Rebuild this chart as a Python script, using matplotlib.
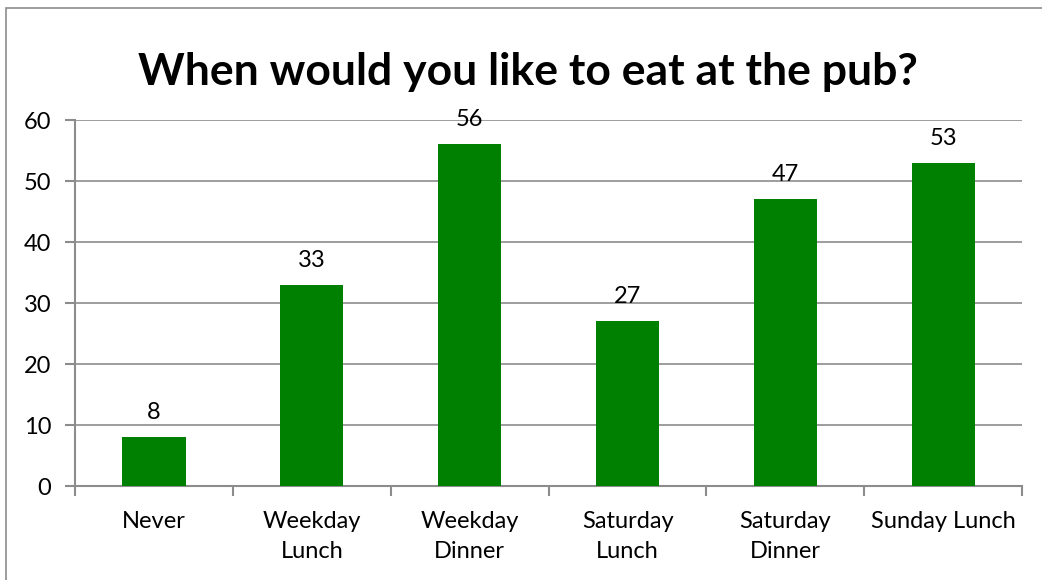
import numpy as np
import matplotlib.pyplot as plt
from matplotlib.patches import Rectangle

categories = ['Never', 'Weekday\nLunch', 'Weekday\nDinner', 'Saturday\nLunch', 'Saturday\nDinner', 'Sunday Lunch']
counts = [8, 33, 56, 27, 47, 53]

plt.rcParams['font.family'] = ['Lato', 'DejaVu Sans']

fig = plt.figure(figsize=(10.42, 5.8), dpi=100)
ax = fig.add_axes([0.072, 0.162, 0.909, 0.631])

# chart border
fig.patches.append(Rectangle((6/1042, -0.05), 1.1, 1 - 8/580 + 0.05, transform=fig.transFigure,
                             fill=False, edgecolor='#8c8c8c', linewidth=1.2))

x = np.arange(len(categories))
bars = ax.bar(x, counts, width=0.4, color='#008000', zorder=3)
for xi, v in zip(x, counts):
    ax.text(xi, v + 2.3, str(v), ha='center', va='bottom', fontsize=17)

ax.set_xlim(-0.5, len(categories) - 0.5)
ax.set_ylim(0, 60)
ax.set_yticks(range(0, 61, 10))
ax.set_xticks(x)
ax.set_xticklabels(categories, fontsize=17, linespacing=1.55)
ax.set_xticks(np.arange(-0.5, len(categories)), minor=True)
ax.tick_params(axis='x', which='major', length=0, pad=18)
ax.tick_params(axis='x', which='minor', length=7, color='#8c8c8c', width=1.5, direction='out')
ax.tick_params(axis='y', labelsize=17, length=7, color='#8c8c8c', width=1.5, pad=10)
ax.grid(axis='y', color='#8c8c8c', linewidth=1.2, zorder=0)

for s in ['top', 'right']:
    ax.spines[s].set_visible(False)
for s in ['left', 'bottom']:
    ax.spines[s].set_color('#8c8c8c')
    ax.spines[s].set_linewidth(1.5)

fig.text(0.507, 0.875, 'When would you like to eat at the pub?', ha='center', va='center',
         fontsize=32, fontweight='bold')

fig.savefig('out.png', dpi=100)
